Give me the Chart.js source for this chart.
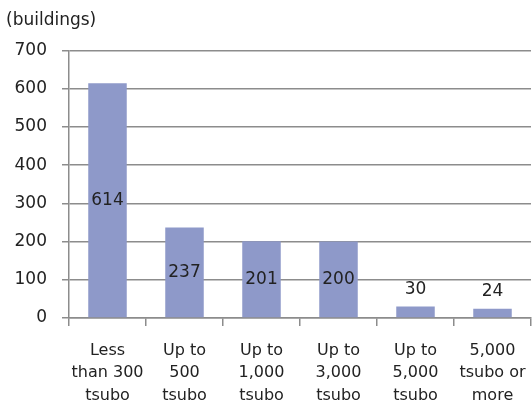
<!DOCTYPE html>
<html>
<head>
<meta charset="utf-8">
<script src="https://cdn.jsdelivr.net/npm/chart.js@4.4.1/dist/chart.umd.min.js"></script>
<style>
  html, body { margin: 0; padding: 0; background: #fff; }
  #wrap { width: 532px; height: 412px; }
</style>
</head>
<body>
<div id="wrap"><canvas id="sizeChart" width="532" height="412"></canvas></div>
<script>
// categories (multi-line labels) and values
const categories = [
    ['Less', 'than 300', 'tsubo'],
    ['Up to', '500', 'tsubo'],
    ['Up to', '1,000', 'tsubo'],
    ['Up to', '3,000', 'tsubo'],
    ['Up to', '5,000', 'tsubo'],
    ['5,000', 'tsubo or', 'more']
];
const buildings = [614, 237, 201, 200, 30, 24];
const yTicks = [0, 100, 200, 300, 400, 500, 600, 700];

const fontFamily = '"DejaVu Sans", Verdana, sans-serif';

// draw the value labels: centered in bar, above it for short bars
const valueLabels = {
    id: 'valueLabels',
    afterDatasetsDraw(chart) {
        const ctx = chart.ctx;
        const meta = chart.getDatasetMeta(0);
        ctx.save();
        ctx.font = '17px ' + fontFamily;
        ctx.fillStyle = '#222';
        ctx.textAlign = 'center';
        ctx.textBaseline = 'middle';
        meta.data.forEach(function(bar, i) {
            const h = bar.base - bar.y;
            let y = (bar.y + bar.base) / 2;
            if (h < 40) y = bar.y - 17;
            ctx.fillText(buildings[i], bar.x, y);
        });
        ctx.restore();
    }
};

new Chart(document.getElementById('sizeChart').getContext('2d'), {
    type: 'bar',
    data: {
        labels: categories,
        datasets: [{
            label: 'buildings',
            data: buildings,
            backgroundColor: '#8e99c9',
            borderWidth: 0,
            barPercentage: 0.5,
            categoryPercentage: 1.0
        }]
    },
    options: {
        responsive: false,
        animation: false,
        layout: { padding: { left: 6, right: 1, top: 0, bottom: 0 } },
        plugins: {
            legend: { display: false },
            tooltip: { enabled: false },
            title: {
                display: true,
                text: '(buildings)',
                align: 'start',
                color: '#222',
                font: { family: fontFamily, size: 17, weight: 'normal' },
                padding: { top: 10, bottom: 20 }
            }
        },
        scales: {
            y: {
                min: 0,
                max: 700,
                afterBuildTicks(scale) {
                    scale.ticks = yTicks.map(v => ({ value: v }));
                },
                afterFit(scale) {
                    scale.width = 63;
                },
                grid: {
                    color: '#8c8c8c',
                    lineWidth: 1.5,
                    tickLength: 7,
                    drawTicks: true
                },
                border: { color: '#8c8c8c', width: 1.5 },
                ticks: {
                    color: '#222',
                    padding: 15,
                    font: { family: fontFamily, size: 17 }
                }
            },
            x: {
                afterFit(scale) {
                    scale.height = 94;
                    scale.paddingLeft = 0;
                    scale.paddingRight = 0;
                },
                grid: {
                    offset: true,
                    drawOnChartArea: false,
                    drawTicks: true,
                    tickLength: 8,
                    color: '#8c8c8c',
                    lineWidth: 1.5
                },
                border: { color: '#8c8c8c', width: 1.5 },
                ticks: {
                    color: '#222',
                    padding: 13,
                    maxRotation: 0,
                    autoSkip: false,
                    font: { family: fontFamily, size: 16, lineHeight: 1.42 }
                }
            }
        }
    },
    plugins: [valueLabels]
});
</script>
</body>
</html>
